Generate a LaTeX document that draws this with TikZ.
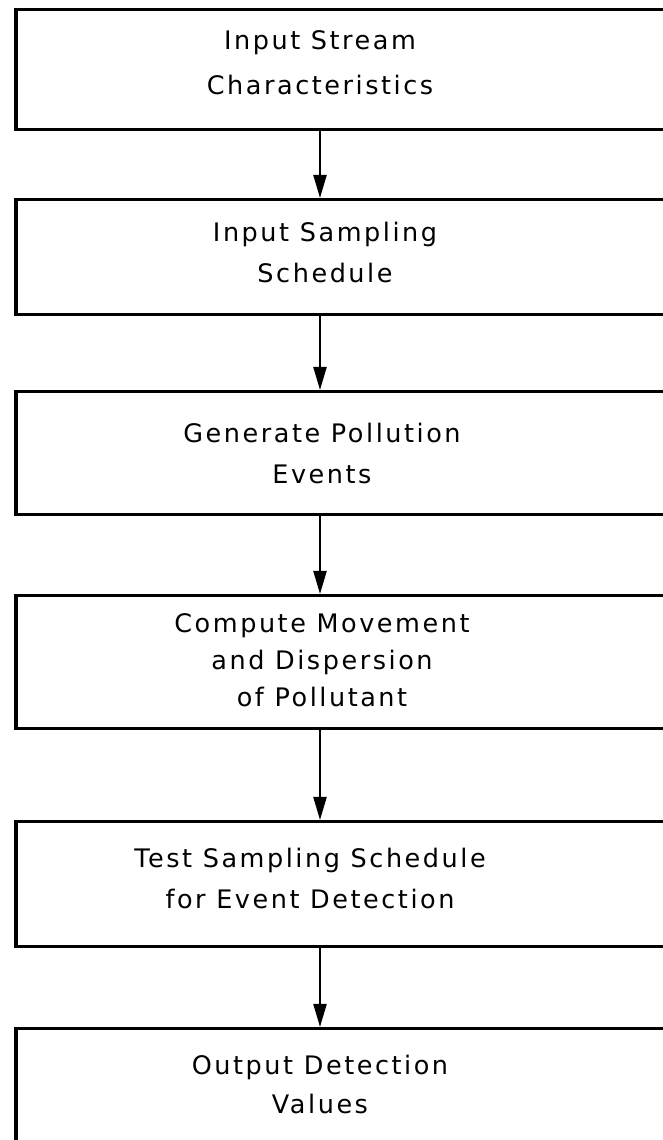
\documentclass[tikz,border=0pt]{standalone}
\usepackage{fontspec}
\setmainfont{DejaVu Sans}[LetterSpace=10]
\usetikzlibrary{arrows.meta}
\begin{document}
\begin{tikzpicture}[x=1pt,y=1pt,
  box/.style={draw, line width=3.5pt, minimum width=690pt, inner sep=0pt, anchor=north west},
  lbl/.style={align=center, inner sep=0pt, font=\fontsize{25.5}{41}\selectfont},
  arr/.style={line width=2.2pt, -{Triangle[length=23pt,width=13pt]}}]
\useasboundingbox (0,0) rectangle (663,1140);
\fill[white] (0,0) rectangle (663,1140);
% boxes
\node[box, minimum height=120pt] (b1) at (14,1132) {};
\node[box, minimum height=115pt] (b2) at (14,942) {};
\node[box, minimum height=123pt] (b3) at (14,750) {};
\node[box, minimum height=133pt] (b4) at (14,546) {};
\node[box, minimum height=125pt] (b5) at (14,320) {};
\node[box, minimum height=140pt] (b6) at (14,113) {};
% labels
\node[lbl, font=\fontsize{25.5}{45}\selectfont] (t1) at (320,1077) {Input Stream\\Characteristics};
\node[lbl] (t2) at (325,887) {Input Sampling\\Schedule};
\node[lbl] (t3) at (322,686) {Generate Pollution\\Events};
\node[lbl, font=\fontsize{25.5}{37}\selectfont] (t4) at (322,480) {Compute Movement\\and Dispersion\\of Pollutant};
\node[lbl] (t5) at (310,262) {Test Sampling Schedule\\for Event Detection};
\node[lbl, font=\fontsize{25.5}{39}\selectfont] (t6) at (320,56) {Output Detection\\Values};
% connectors
\draw[arr] (t1 |- b1.south) -- (t1 |- b2.north);
\draw[arr] (t1 |- b2.south) -- (t1 |- b3.north);
\draw[arr] (t1 |- b3.south) -- (t1 |- b4.north);
\draw[arr] (t1 |- b4.south) -- (t1 |- b5.north);
\draw[arr] (t1 |- b5.south) -- (t1 |- b6.north);
\end{tikzpicture}
\end{document}
